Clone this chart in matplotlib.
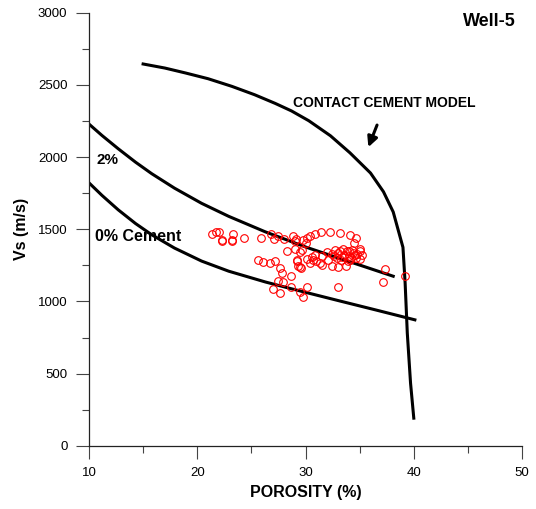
import matplotlib.pyplot as plt
from matplotlib.ticker import MultipleLocator

plt.rcParams['font.family'] = ['Liberation Sans', 'DejaVu Sans']

# contact cement model curve
cc_por = [15.0, 17.0, 18.9, 21.0, 23.2, 25.3, 27.2, 28.7, 30.3, 32.3, 34.1, 36.0, 37.2, 38.1,
          39.0, 39.2, 39.4, 39.7, 40.0]
cc_vs = [2645, 2617, 2583, 2543, 2490, 2432, 2372, 2320, 2252, 2148, 2030, 1890, 1760, 1620,
         1375, 1128, 781, 435, 192]

# 2% cement curve
c2_por = [10.0, 11.2, 12.7, 14.3, 15.8, 17.9, 20.4, 22.9, 26.3, 30.1, 33.2, 35.3, 38.1]
c2_vs = [2229, 2150, 2058, 1965, 1885, 1785, 1680, 1590, 1482, 1375, 1297, 1245, 1175]

# 0% cement curve
c0_por = [10.0, 11.2, 12.7, 14.3, 15.8, 17.9, 20.4, 22.9, 26.3, 28.6, 33.2, 36.3, 40.1]
c0_vs = [1822, 1735, 1635, 1540, 1462, 1370, 1280, 1210, 1135, 1090, 1003, 945, 873]

# well-5 measurements
well_por = [21.4, 21.7, 22.0, 22.3, 23.3, 23.2, 24.3, 25.9, 26.8, 27.1, 27.5, 28.0, 28.3, 28.8,
            29.0, 29.1, 29.8, 30.0, 30.1, 30.4, 30.9, 31.4, 32.3, 33.2, 34.1, 34.7, 34.5, 35.0,
            34.8, 34.3, 33.8, 33.5, 33.0, 32.6, 32.0, 31.5, 30.9, 30.6, 30.1, 29.7, 29.5, 29.0,
            29.2, 29.3, 29.6, 30.4, 31.0, 31.5, 32.4, 33.0, 33.7, 34.1, 34.7, 35.0, 25.6, 26.1,
            26.7, 27.2, 27.6, 27.8, 28.7, 27.5, 27.9, 27.0, 27.6, 28.7, 29.5, 29.8, 30.1, 33.0,
            37.3, 37.2, 39.2, 30.7, 31.3, 32.1, 32.9, 33.3, 34.0, 34.4, 35.0, 33.2, 32.7, 33.6,
            34.2, 33.9, 34.6, 35.2, 33.4, 34.0, 32.4, 22.3, 23.2, 29.2, 29.5]
well_vs = [1467, 1478, 1481, 1421, 1469, 1421, 1439, 1439, 1467, 1432, 1455, 1432, 1351, 1455,
           1421, 1432, 1428, 1404, 1439, 1455, 1469, 1478, 1478, 1474, 1462, 1439, 1404, 1363,
           1331, 1358, 1347, 1363, 1335, 1317, 1340, 1317, 1324, 1308, 1294, 1358, 1340, 1363,
           1284, 1243, 1231, 1266, 1278, 1254, 1243, 1238, 1247, 1289, 1301, 1294, 1284, 1275,
           1266, 1282, 1231, 1197, 1174, 1143, 1134, 1086, 1058, 1100, 1063, 1030, 1097, 1100,
           1227, 1134, 1180, 1289, 1266, 1289, 1301, 1289, 1312, 1335, 1347, 1347, 1358, 1320,
           1300, 1280, 1320, 1320, 1310, 1350, 1330, 1423, 1423, 1282, 1236]

fig = plt.figure(figsize=(5.36, 5.09), dpi=100)
ax = fig.add_axes([0.166, 0.124, 0.808, 0.851])

ax.plot(cc_por, cc_vs, color='black', lw=2.2, solid_joinstyle='round')
ax.plot(c2_por, c2_vs, color='black', lw=2.2, solid_joinstyle='round')
ax.plot(c0_por, c0_vs, color='black', lw=2.2, solid_joinstyle='round')
ax.plot(well_por, well_vs, 'o', mfc='none', mec='red', ms=5.5, mew=0.8)

ax.set_xlim(10, 50)
ax.set_ylim(0, 3000)
ax.xaxis.set_major_locator(MultipleLocator(10))
ax.xaxis.set_minor_locator(MultipleLocator(5))
ax.yaxis.set_major_locator(MultipleLocator(500))
ax.yaxis.set_minor_locator(MultipleLocator(250))
ax.spines['top'].set_visible(False)
ax.spines['right'].set_visible(False)
for s in ['left', 'bottom']:
    ax.spines[s].set_color('#222222')
    ax.spines[s].set_linewidth(0.9)
ax.tick_params(which='major', direction='out', length=9.5, width=0.8, color='#444444',
               labelsize=9.5, pad=6)
ax.tick_params(which='minor', direction='out', length=5, width=0.8, color='#444444')

ax.set_xlabel('POROSITY (%)', fontsize=11.5, fontweight='bold', labelpad=4)
ax.set_ylabel('Vs (m/s)', fontsize=11.5, fontweight='bold', labelpad=6)

ax.text(47.0, 2938, 'Well-5', fontsize=13, fontweight='bold', ha='center', va='center')
ax.text(28.85, 2377, 'CONTACT CEMENT MODEL', fontsize=10, fontweight='bold', ha='left', va='center')
ax.text(10.74, 1982, '2%', fontsize=11, fontweight='bold', ha='left', va='center')
ax.text(10.55, 1448, '0% Cement', fontsize=11.5, fontweight='bold', ha='left', va='center')
ax.annotate('', xy=(35.71, 2051), xytext=(36.7, 2240),
            arrowprops=dict(arrowstyle='-|>,head_length=0.6,head_width=0.3', color='black', lw=2.2))

fig.savefig('out.png', dpi=100)
